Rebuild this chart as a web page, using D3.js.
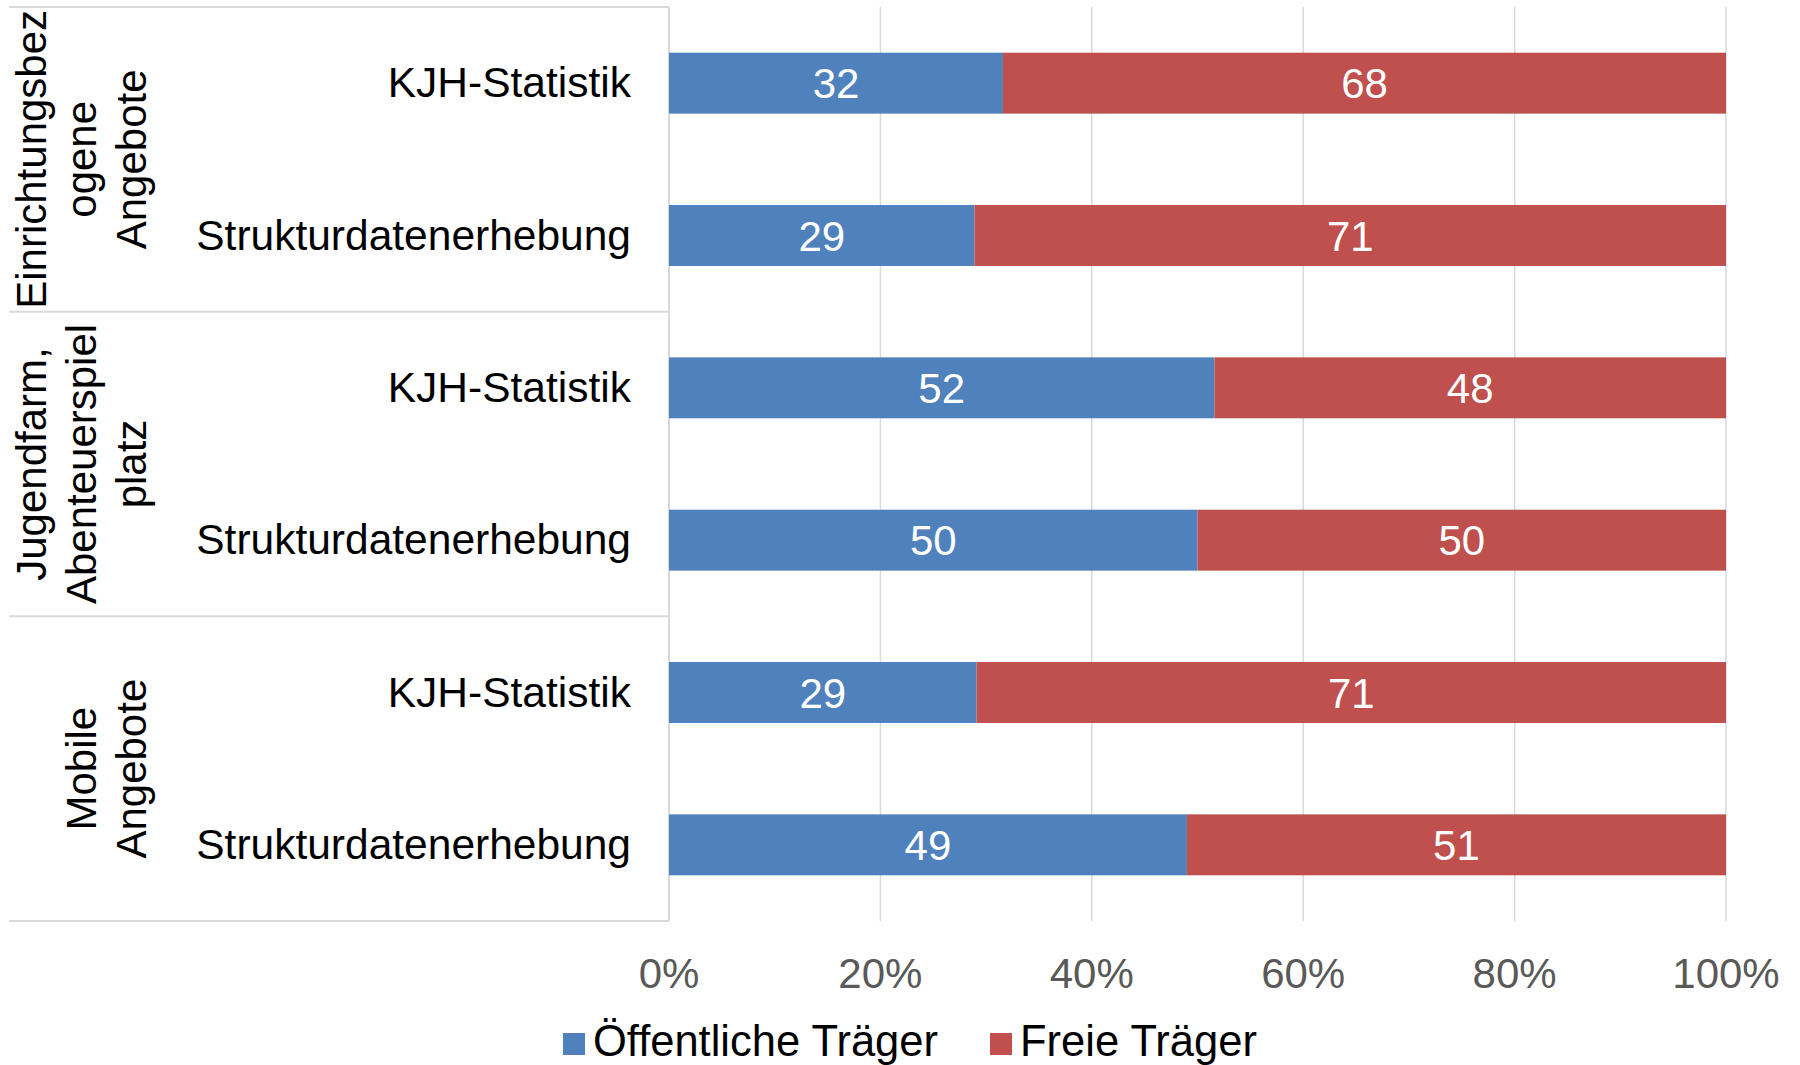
<!DOCTYPE html>
<html>
<head>
<meta charset="utf-8">
<script src="https://cdn.jsdelivr.net/npm/d3@7"></script>
<style>
  html, body { margin: 0; padding: 0; background: #fff; }
  svg { display: block; font-family: "Liberation Sans", Arial, Helvetica, sans-serif; }
</style>
</head>
<body>
<svg id="chart" width="1800" height="1065"></svg>
<script>
// ---- data ----
const groups = [
  ["Einrichtungsbez", "ogene", "Angebote"],
  ["Jugendfarm,", "Abenteuerspiel", "platz"],
  ["Mobile", "Angebote"]
];
const categories = ["KJH-Statistik", "Strukturdatenerhebung", "KJH-Statistik", "Strukturdatenerhebung", "KJH-Statistik", "Strukturdatenerhebung"];
const groupOfCategory = [0, 0, 1, 1, 2, 2];
const oeffentliche = [31.6, 28.9, 51.6, 50, 29.1, 49];
const freie = [68.4, 71.1, 48.4, 50, 70.9, 51];
const seriesNames = ["Öffentliche Träger", "Freie Träger"];
const seriesColors = ["#4F81BD", "#C0504D"];
const xTicks = [0, 20, 40, 60, 80, 100];

// ---- layout ----
const svg = d3.select("#chart");
const plotLeft = 669, plotRight = 1726, plotTop = 7, plotBottom = 921;
const tableLeft = 9;
const gridColor = "#d9d9d9";

const x = d3.scaleLinear().domain([0, 100]).range([plotLeft, plotRight]);
const y = d3.scaleBand().domain(d3.range(categories.length)).range([plotTop, plotBottom]).paddingInner(0).paddingOuter(0);
const barH = y.bandwidth() * 0.4;

// gridlines
svg.append("g").selectAll("line").data(xTicks.slice(1)).join("line")
  .attr("x1", d => x(d)).attr("x2", d => x(d))
  .attr("y1", plotTop).attr("y2", plotBottom)
  .attr("stroke", gridColor).attr("stroke-width", 1.5);

// table lines (left category area)
const groupBounds = [0, 2, 4, 6].map(i => i < categories.length ? y(i) : plotBottom);
svg.append("g").selectAll("line").data(groupBounds).join("line")
  .attr("x1", tableLeft).attr("x2", plotLeft)
  .attr("y1", d => d).attr("y2", d => d)
  .attr("stroke", gridColor).attr("stroke-width", 2);
svg.append("line")
  .attr("x1", plotLeft).attr("x2", plotLeft)
  .attr("y1", plotTop).attr("y2", plotBottom)
  .attr("stroke", gridColor).attr("stroke-width", 2);

// stacked bars
const rows = categories.map((c, i) => ({ i, vals: [oeffentliche[i], freie[i]] }));
const barG = svg.append("g");
rows.forEach(r => {
  let acc = 0;
  r.vals.forEach((v, s) => {
    const x0 = x(acc), x1 = x(acc + v);
    const yc = y(r.i) + y.bandwidth() / 2;
    barG.append("rect")
      .attr("x", x0).attr("width", x1 - x0)
      .attr("y", yc - barH / 2).attr("height", barH)
      .attr("fill", seriesColors[s]);
    barG.append("text")
      .attr("x", (x0 + x1) / 2).attr("y", yc + 15)
      .attr("text-anchor", "middle")
      .attr("font-size", 42).attr("fill", "#fff")
      .text(Math.round(v));
    acc += v;
  });
});

// category labels
svg.append("g").selectAll("text").data(categories).join("text")
  .attr("x", 631)
  .attr("y", (d, i) => y(i) + y.bandwidth() / 2 + 14)
  .attr("text-anchor", "end")
  .attr("font-size", 42.5).attr("fill", "#000")
  .text(d => d);

// group labels (rotated)
groups.forEach((lines, g) => {
  const idx = groupOfCategory.map((gg, i) => gg === g ? i : -1).filter(i => i >= 0);
  const top = y(idx[0]);
  const bottom = y(idx[idx.length - 1]) + y.bandwidth();
  const cy = (top + bottom) / 2;
  const pitch = 50;
  const lastBase = 146;
  const t = svg.append("text")
    .attr("transform", `translate(0,${cy}) rotate(-90)`)
    .attr("text-anchor", "middle")
    .attr("font-size", 42).attr("fill", "#000");
  lines.forEach((ln, k) => {
    t.append("tspan")
      .attr("x", 0)
      .attr("y", lastBase - (lines.length - 1 - k) * pitch)
      .text(ln);
  });
});

// x axis tick labels
svg.append("g").selectAll("text").data(xTicks).join("text")
  .attr("x", d => x(d)).attr("y", 988)
  .attr("text-anchor", "middle")
  .attr("font-size", 42).attr("fill", "#595959")
  .text(d => d + "%");

// legend
const legendItems = [
  { name: seriesNames[0], color: seriesColors[0], x: 563 },
  { name: seriesNames[1], color: seriesColors[1], x: 990 }
];
const lg = svg.append("g");
legendItems.forEach(it => {
  lg.append("rect").attr("x", it.x).attr("y", 1033).attr("width", 22).attr("height", 22).attr("fill", it.color);
  lg.append("text").attr("x", it.x + 30).attr("y", 1056)
    .attr("font-size", 43.5).attr("fill", "#000").text(it.name);
});
</script>
</body>
</html>
